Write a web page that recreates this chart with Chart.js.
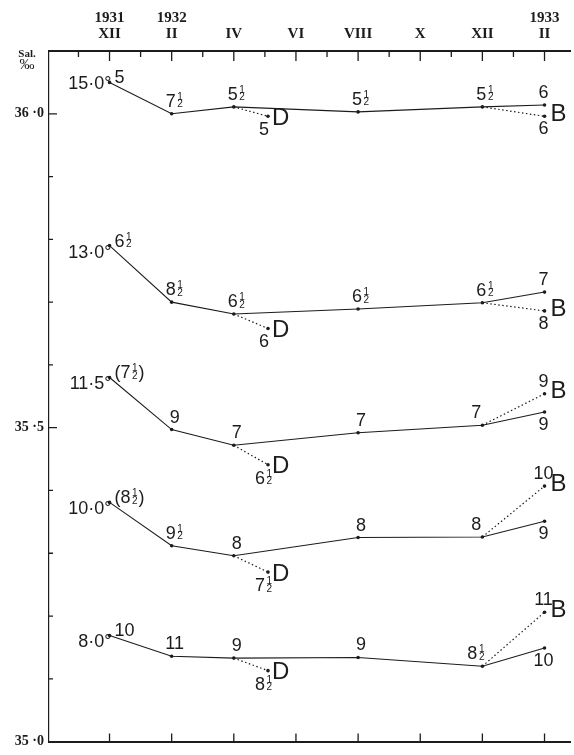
<!DOCTYPE html>
<html>
<head>
<meta charset="utf-8">
<script src="https://cdn.jsdelivr.net/npm/chart.js@4"></script>
<style>
  html, body { margin: 0; padding: 0; background: #fff; }
</style>
</head>
<body>
<canvas id="myChart" width="574" height="755"></canvas>
<script>
// month index: 0 = XII 1931, 2 = II 1932 ... 14 = II 1933
var sampleMonths = [0, 2, 4, 8, 12, 14];
var dMonth = 5.1;
var bMonth = 14;

var temps = ['15·0°', '13·0°', '11·5°', '10·0°', '8·0°'];

var sal15 = [36.050, 36.000, 36.011, 36.003, 36.011, 36.014];
var sal13 = [35.790, 35.700, 35.681, 35.689, 35.699, 35.716];
var sal115 = [35.580, 35.497, 35.472, 35.492, 35.504, 35.525];
var sal10 = [35.381, 35.312, 35.296, 35.325, 35.326, 35.351];
var sal8 = [35.169, 35.136, 35.133, 35.134, 35.120, 35.149];
var salD = [35.996, 35.658, 35.441, 35.270, 35.113];
var salB = [35.996, 35.686, 35.554, 35.407, 35.206];

var depth15 = ['5', '7½', '5½', '5½', '5½', '6'];
var depth13 = ['6½', '8½', '6½', '6½', '6½', '7'];
var depth115 = ['(7½)', '9', '7', '7', '7', '9'];
var depth10 = ['(8½)', '9½', '8', '8', '8', '9'];
var depth8 = ['10', '11', '9', '9', '8½', '10'];
var depthD = ['5', '6', '6½', '7½', '8½'];
var depthB = ['6', '8', '9', '10', '11'];

var xTickValues = [0, 2, 4, 6, 8, 10, 12, 14];
var xTickYears = ['1931', '1932', '', '', '', '', '', '1933'];
var xTickMonths = ['XII', 'II', 'IV', 'VI', 'VIII', 'X', 'XII', 'II'];
var yTickValues = [35.0, 35.5, 36.0];

var sals = [sal15, sal13, sal115, sal10, sal8];
var depths = [depth15, depth13, depth115, depth10, depth8];

var ink = '#1c1c1c';
var numFont = '18px "Liberation Sans"';
var letterFont = '24px "Liberation Sans"';

var datasets = [];
sals.forEach(function (s, i) {
    datasets.push({
        data: sampleMonths.map(function (m, j) { return { x: m, y: s[j] }; }),
        borderColor: ink, borderWidth: 1.1,
        pointRadius: 1.8, pointBackgroundColor: ink, pointBorderWidth: 0
    });
    datasets.push({
        data: [{ x: sampleMonths[2], y: s[2] }, { x: dMonth, y: salD[i] }],
        borderColor: ink, borderWidth: 1.2, borderDash: [1.5, 2.5],
        pointRadius: [0, 1.8], pointBackgroundColor: ink, pointBorderWidth: 0
    });
    datasets.push({
        data: [{ x: sampleMonths[4], y: s[4] }, { x: bMonth, y: salB[i] }],
        borderColor: ink, borderWidth: 1.2, borderDash: [1.5, 2.5],
        pointRadius: [0, 1.8], pointBackgroundColor: ink, pointBorderWidth: 0
    });
});

// number with a small stacked 1 over 2 for the half
function drawNum(ctx, str, x, y, align) {
    var half = str.indexOf('½') >= 0;
    var main = str.replace('½', '');
    var tail = '';
    if (main.charAt(main.length - 1) === ')') { tail = ')'; main = main.slice(0, -1); }
    ctx.font = numFont;
    var wMain = ctx.measureText(main).width;
    var wFrac = half ? 8 : 0;
    var wTail = tail ? ctx.measureText(tail).width : 0;
    var w = wMain + wFrac + wTail;
    var x0 = align === 'center' ? x - w / 2 : (align === 'right' ? x - w : x);
    ctx.textAlign = 'left';
    ctx.textBaseline = 'alphabetic';
    ctx.fillText(main, x0, y);
    if (half) {
        ctx.font = '10px "Liberation Sans"';
        ctx.fillText('1', x0 + wMain + 1.5, y - 7);
        ctx.fillText('2', x0 + wMain + 1.5, y + 0.5);
        ctx.font = numFont;
    }
    if (tail) ctx.fillText(tail, x0 + wMain + wFrac, y);
}

var labelPlugin = {
    id: 'labels',
    afterDatasetsDraw: function (chart) {
        var ctx = chart.ctx;
        ctx.save();
        ctx.fillStyle = ink;
        sals.forEach(function (s, i) {
            var pts = chart.getDatasetMeta(3 * i).data;
            var dPt = chart.getDatasetMeta(3 * i + 1).data[1];
            var bPt = chart.getDatasetMeta(3 * i + 2).data[1];
            var d = depths[i];

            // first point: temperature to the left, depth to the right
            ctx.font = numFont;
            ctx.textAlign = 'right';
            ctx.fillText(temps[i], pts[0].x + 2, pts[0].y + 7);
            drawNum(ctx, d[0], pts[0].x + 5, pts[0].y + 1, 'left');

            for (var j = 1; j <= 4; j++) {
                var off = 3;
                if (j === 4 && salB[i] > s[4]) off = -6;
                drawNum(ctx, d[j], pts[j].x + off, pts[j].y - 7, 'center');
            }

            // last month and B station
            var last = pts[5];
            if (s[5] >= salB[i]) {
                drawNum(ctx, d[5], last.x - 1, last.y - 7, 'center');
                drawNum(ctx, depthB[i], bPt.x - 1, bPt.y + 18, 'center');
            } else {
                drawNum(ctx, depthB[i], bPt.x - 1, bPt.y - 7, 'center');
                drawNum(ctx, d[5], last.x - 1, last.y + 18, 'center');
            }
            ctx.font = letterFont;
            ctx.textAlign = 'left';
            ctx.textBaseline = 'middle';
            ctx.fillText('B', bPt.x + 6, bPt.y - 2);

            // D station
            drawNum(ctx, depthD[i], dPt.x - 4, dPt.y + 19, 'center');
            ctx.font = letterFont;
            ctx.textAlign = 'left';
            ctx.textBaseline = 'middle';
            ctx.fillText('D', dPt.x + 4, dPt.y + 2);
        });
        ctx.restore();
    }
};

// inward tick marks on the three axes, plus the Sal. ‰ heading
var tickPlugin = {
    id: 'inTicks',
    afterDraw: function (chart) {
        var ctx = chart.ctx;
        var x = chart.scales.x, y = chart.scales.y;
        var a = chart.chartArea;
        ctx.save();
        ctx.strokeStyle = ink;
        ctx.lineWidth = 1.3;
        ctx.beginPath();
        for (var m = Math.ceil(x.min); m <= x.max; m++) {
            var px = x.getPixelForValue(m);
            var major = xTickValues.indexOf(m) >= 0;
            ctx.moveTo(px, a.top);
            ctx.lineTo(px, a.top + (major ? 10 : 6));
            if (major) {
                ctx.moveTo(px, a.bottom);
                ctx.lineTo(px, a.bottom - 8);
            }
        }
        for (var k = 0; k <= 10; k++) {
            var v = 35 + k / 10;
            var py = y.getPixelForValue(v);
            var big = k % 5 === 0;
            ctx.moveTo(a.left, py);
            ctx.lineTo(a.left + (big ? 8 : 4), py);
        }
        ctx.stroke();

        ctx.fillStyle = ink;
        ctx.textAlign = 'center';
        ctx.textBaseline = 'middle';
        ctx.font = 'bold 11px "Liberation Serif"';
        ctx.fillText('Sal.', a.left - 22, a.top + 3);
        ctx.font = '15px "Liberation Serif"';
        ctx.fillText('‰', a.left - 22, a.top + 14);
        ctx.restore();
    }
};

var ctx = document.getElementById('myChart').getContext('2d');
var myChart = new Chart(ctx, {
    type: 'line',
    data: { datasets: datasets },
    options: {
        responsive: false,
        animation: false,
        layout: { padding: { left: 0, right: 0, top: 0, bottom: 4 } },
        plugins: {
            legend: { display: false },
            tooltip: { enabled: false }
        },
        scales: {
            x: {
                type: 'linear',
                position: 'top',
                min: -1.948,
                max: 14.82,
                grid: { display: false, drawTicks: false },
                border: { display: true, color: ink, width: 2 },
                ticks: {
                    color: ink,
                    padding: 9,
                    font: { family: '"Liberation Serif"', size: 15, weight: 'bold', lineHeight: 1.05 },
                    maxRotation: 0,
                    autoSkip: false,
                    callback: function (value) {
                        var i = xTickValues.indexOf(value);
                        return [xTickYears[i], xTickMonths[i]];
                    }
                },
                afterBuildTicks: function (scale) {
                    scale.ticks = xTickValues.map(function (v) { return { value: v }; });
                },
                afterFit: function (scale) { scale.height = 51; }
            },
            xb: {
                type: 'linear',
                position: 'bottom',
                min: -1.948,
                max: 14.82,
                grid: { display: false, drawTicks: false },
                border: { display: true, color: ink, width: 2 },
                ticks: { display: false },
                afterFit: function (scale) { scale.height = 0; }
            },
            y: {
                type: 'linear',
                min: 35.0,
                max: 36.1,
                grid: { display: false, drawTicks: false },
                border: { display: true, color: ink, width: 1.2 },
                ticks: {
                    color: ink,
                    padding: 5,
                    font: { family: '"Liberation Serif"', size: 14, weight: 'bold' },
                    callback: function (v) { return v.toFixed(1).replace('.', ' ·'); }
                },
                afterBuildTicks: function (scale) {
                    scale.ticks = yTickValues.map(function (v) { return { value: v }; });
                },
                afterFit: function (scale) { scale.width = 49; }
            }
        }
    },
    plugins: [labelPlugin, tickPlugin]
});
</script>
</body>
</html>
